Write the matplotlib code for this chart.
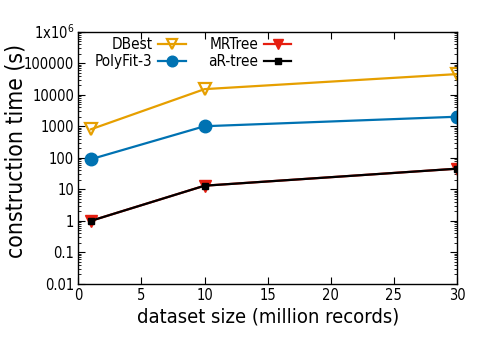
import matplotlib
matplotlib.use("Agg")
import matplotlib.pyplot as plt
from matplotlib.ticker import FixedLocator, LogLocator, NullFormatter

# Data
x_vals = [1, 10, 30]
dbest = [800, 15000, 45000]
polyfit = [90, 1000, 2000]
mrtree = [1, 13, 45]
artree = [1, 13, 45]

y_ticks = [0.01, 0.1, 1, 10, 100, 1000, 10000, 100000, 1e6]
y_tick_labels = ["0.01", "0.1", "1", "10", "100", "1000", "10000", "100000", r"1x10$^{6}$"]
x_ticks = [0, 5, 10, 15, 20, 25, 30]

plt.rcParams['font.family'] = ['DejaVu Sans']
plt.rcParams['font.stretch'] = 'condensed'
plt.rcParams['mathtext.fontset'] = 'dejavusans'

fig = plt.figure(figsize=(4.82, 3.40), dpi=100)
ax = fig.add_axes([0.1625, 0.165, 0.7855, 0.742])

ax.plot(x_vals, dbest, color='#E69F00', lw=1.6, marker='v', markersize=9,
        markerfacecolor='none', markeredgewidth=1.6, label='DBest')
ax.plot(x_vals, polyfit, color='#0072B2', lw=1.6, marker='o', markersize=9,
        label='PolyFit-3')
ax.plot(x_vals, mrtree, color='#E51E10', lw=1.6, marker='v', markersize=8,
        label='MRTree')
ax.plot(x_vals, artree, color='black', lw=1.6, marker='s', markersize=5,
        label='aR-tree')

ax.set_yscale('log')
ax.set_ylim(0.01, 1e6)
ax.set_xlim(0, 30)
ax.yaxis.set_major_locator(FixedLocator(y_ticks))
ax.set_yticklabels(y_tick_labels)
ax.yaxis.set_minor_locator(LogLocator(base=10, subs=range(2, 10), numticks=20))
ax.yaxis.set_minor_formatter(NullFormatter())
ax.set_xticks(x_ticks)
ax.set_xticklabels([str(v) for v in x_ticks])

ax.tick_params(axis='both', which='major', direction='in', length=5, width=0.8,
               top=True, right=True, labelsize=10.5, pad=3)
ax.tick_params(axis='y', which='minor', direction='in', length=2.5, width=0.6,
               left=True, right=True)
for s in ax.spines.values():
    s.set_linewidth(1.0)

ax.set_xlabel('dataset size (million records)', fontsize=14.5, labelpad=3)
ax.set_ylabel('construction time (s)', fontsize=16.5)
ax.yaxis.set_label_coords(-0.135, 0.527)

leg = ax.legend(loc='upper left', bbox_to_anchor=(0.02, 1.015), ncol=2,
                markerfirst=False, frameon=False, fontsize=11,
                handlelength=1.8, handletextpad=0.35, columnspacing=1.5,
                labelspacing=0.15, borderaxespad=0.2, markerscale=0.85)

fig.savefig('out.png', dpi=100)
